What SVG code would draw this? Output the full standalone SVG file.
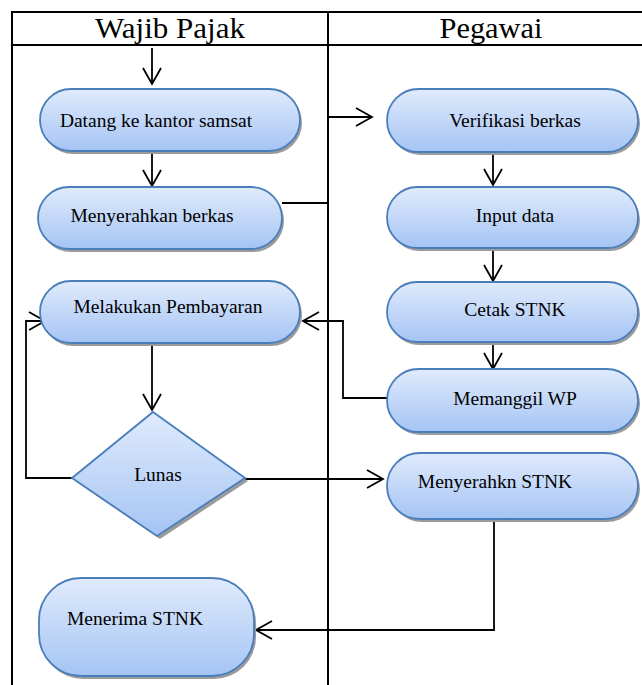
<svg xmlns="http://www.w3.org/2000/svg" width="642" height="685" viewBox="0 0 642 685">
<style>
.frame{stroke:#000;stroke-width:2;fill:none}
.node{fill:url(#g);stroke:#4a7ebb;stroke-width:1.8}
.shadow{fill:#9b9b9b;stroke:none}
.lbl{font-family:'Liberation Serif','DejaVu Serif',serif;font-size:19.5px;fill:#000;text-anchor:middle}
.hdr{font-family:'Liberation Serif','DejaVu Serif',serif;font-size:29px;fill:#000;text-anchor:middle}
.conn{fill:none;stroke:#000;stroke-width:1.8;marker-end:url(#arr)}
</style>
<defs>
<linearGradient id="g" x1="0" y1="0" x2="0" y2="1">
<stop offset="0" stop-color="#e0ebfc"/>
<stop offset="1" stop-color="#a5c4f4"/>
</linearGradient>
<marker id="arr" viewBox="0 0 20 20" refX="18" refY="10" markerWidth="20" markerHeight="20" orient="auto" markerUnits="userSpaceOnUse">
<path d="M2,1 L18,10 L2,19" fill="none" stroke="#000" stroke-width="1.8"/>
</marker>
</defs>
<rect width="642" height="685" fill="#fff"/>
<g id="frame">
<line class="frame" x1="12" y1="12" x2="642" y2="12"/>
<line class="frame" x1="12" y1="45" x2="642" y2="45"/>
<line class="frame" x1="12" y1="11" x2="12" y2="685"/>
<line class="frame" x1="328" y1="11" x2="328" y2="685"/>
<text class="hdr" x="170" y="38" textLength="150" lengthAdjust="spacingAndGlyphs">Wajib Pajak</text>
<text class="hdr" x="491" y="38" textLength="103" lengthAdjust="spacingAndGlyphs">Pegawai</text>
</g>
<g id="connectors">
<line class="conn" x1="152" y1="48" x2="152" y2="84"/>
<line class="conn" x1="152" y1="152" x2="152" y2="186"/>
<polyline class="conn" points="282,203 328,203 328,117 372,117"/>
<line class="conn" x1="493" y1="153" x2="493" y2="185"/>
<line class="conn" x1="493" y1="249" x2="493" y2="281"/>
<line class="conn" x1="493" y1="343" x2="493" y2="369"/>
<polyline class="conn" points="387,398 343,398 343,321 303,321"/>
<line class="conn" x1="152" y1="343" x2="152" y2="410"/>
<polyline class="conn" points="72,478 26,478 26,321 45,321"/>
<line class="conn" x1="245" y1="479" x2="383" y2="479"/>
<polyline class="conn" points="494,519 494,630 256,630"/>
</g>
<g id="n-datang">
<rect class="shadow" x="42" y="92" width="260" height="62" rx="31"/>
<rect class="node" x="40" y="89" width="260" height="62" rx="31"/>
<text class="lbl" x="156" y="127">Datang ke kantor samsat</text>
</g>
<g id="n-menyerahkan">
<rect class="shadow" x="40" y="190" width="244" height="62" rx="31"/>
<rect class="node" x="38" y="187" width="244" height="62" rx="31"/>
<text class="lbl" x="152" y="222">Menyerahkan berkas</text>
</g>
<g id="n-melakukan">
<rect class="shadow" x="42" y="284" width="260" height="62" rx="31"/>
<rect class="node" x="40" y="281" width="260" height="62" rx="31"/>
<text class="lbl" x="168" y="313">Melakukan Pembayaran</text>
</g>
<g id="n-lunas">
<polygon class="shadow" points="155,416 248,481 160,539 75,481"/>
<polygon class="node" points="153,412 245,478 157,536 72,478"/>
<text class="lbl" x="158" y="481">Lunas</text>
</g>
<g id="n-menerima">
<rect class="shadow" x="41" y="581" width="215" height="98" rx="42"/>
<rect class="node" x="39" y="578" width="215" height="98" rx="42"/>
<text class="lbl" x="135" y="625">Menerima STNK</text>
</g>
<g id="n-verifikasi">
<rect class="shadow" x="389" y="92" width="251" height="63" rx="31.5"/>
<rect class="node" x="387" y="89" width="251" height="63" rx="31.5"/>
<text class="lbl" x="515" y="127">Verifikasi berkas</text>
</g>
<g id="n-input">
<rect class="shadow" x="389" y="190" width="251" height="61" rx="30.5"/>
<rect class="node" x="387" y="187" width="251" height="61" rx="30.5"/>
<text class="lbl" x="515" y="222">Input data</text>
</g>
<g id="n-cetak">
<rect class="shadow" x="389" y="285" width="251" height="60" rx="30"/>
<rect class="node" x="387" y="282" width="251" height="60" rx="30"/>
<text class="lbl" x="515" y="316">Cetak STNK</text>
</g>
<g id="n-memanggil">
<rect class="shadow" x="389" y="372" width="251" height="63" rx="31.5"/>
<rect class="node" x="387" y="369" width="251" height="63" rx="31.5"/>
<text class="lbl" x="515" y="405">Memanggil WP</text>
</g>
<g id="n-menyerahkn">
<rect class="shadow" x="389" y="456" width="251" height="66" rx="33"/>
<rect class="node" x="387" y="453" width="251" height="66" rx="33"/>
<text class="lbl" x="495" y="488">Menyerahkn STNK</text>
</g>
</svg>
